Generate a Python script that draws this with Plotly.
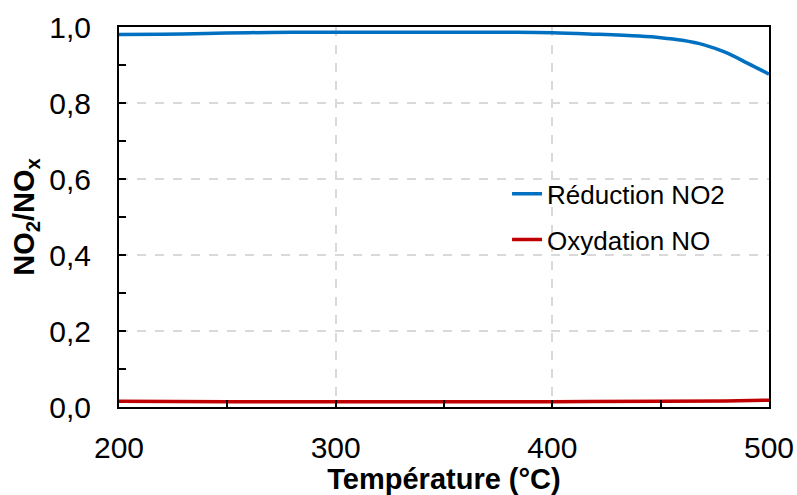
import plotly.graph_objects as go

temp_blue = [200, 220, 240, 260, 280, 300, 320, 340, 360, 380, 400, 420, 440, 450, 460, 470, 480, 490, 500]
reduction_no2 = [0.980, 0.981, 0.983, 0.985, 0.986, 0.986, 0.986, 0.986, 0.986, 0.986, 0.985, 0.981, 0.976, 0.972, 0.965, 0.953, 0.933, 0.905, 0.876]
temp_red = [200, 250, 300, 350, 400, 450, 480, 500]
oxydation_no = [0.015, 0.014, 0.014, 0.014, 0.014, 0.015, 0.016, 0.018]

FONT = "Liberation Sans, Arial"

fig = go.Figure()
fig.add_trace(go.Scatter(x=temp_blue, y=reduction_no2, mode="lines", name="Réduction NO2",
                         line=dict(color="#0070C0", width=3.5, shape="spline"), legendgroup="a"))
fig.add_trace(go.Scatter(x=temp_red, y=oxydation_no, mode="lines", name="Oxydation NO",
                         line=dict(color="#C00000", width=3.5, shape="spline"), legendgroup="b"))

axis_common = dict(showline=True, linecolor="black", linewidth=2, mirror=True,
                   ticks="inside", ticklen=7, tickwidth=1.5, tickcolor="black",
                   showgrid=True, gridcolor="#d9d9d9", griddash="dash", gridwidth=1.5,
                   zeroline=False, automargin=False,
                   tickfont=dict(family=FONT, size=30, color="black"))

fig.update_xaxes(range=[200, 500], dtick=100, tick0=200, ticklabelstandoff=13,
                 minor=dict(dtick=50, ticks="inside", ticklen=7, tickcolor="black", showgrid=False),
                 title=dict(text="<b>Température (°C)</b>", font=dict(family=FONT, size=29, color="black"), standoff=0),
                 **axis_common)
fig.update_yaxes(range=[0, 1], dtick=0.2, tickformat=".1f", ticklabelstandoff=20,
                 minor=dict(dtick=0.1, ticks="inside", ticklen=7, tickcolor="black", showgrid=False),
                 title=dict(text="<b>NO<sub>2</sub>/NO<sub>x</sub></b>", font=dict(family=FONT, size=29, color="black"), standoff=6),
                 **axis_common)

fig.update_layout(
    width=797, height=495,
    margin=dict(l=119, r=28, t=27, b=88),
    plot_bgcolor="white", paper_bgcolor="white",
    separators=", ",
    legend=dict(x=0.597, y=0.623, xanchor="left", yanchor="top", bgcolor="rgba(0,0,0,0)",
                font=dict(family=FONT, size=26, color="black"),
                traceorder="grouped", tracegroupgap=9),
    showlegend=True,
)

fig.write_html("out.html", config={"displayModeBar": False},
               post_script="document.body.style.margin='0';")
